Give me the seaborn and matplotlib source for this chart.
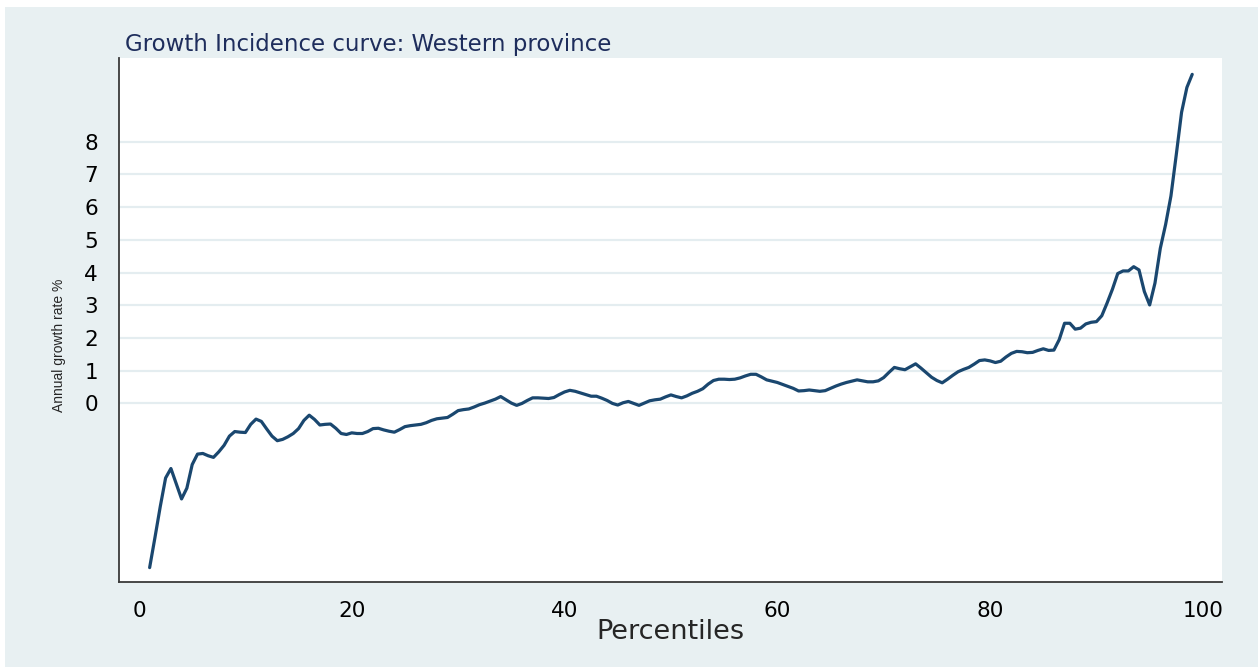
import numpy as np
import pandas as pd
import seaborn as sns
import matplotlib.pyplot as plt
from matplotlib.patches import Rectangle

# percentiles on a half-step grid, growth rates
percentiles = np.arange(1, 99.5, 0.5)
growth = [
    # 1.0 - 20.5
    -5.02, -4.10, -3.15, -2.28, -1.99, -2.45, -2.92, -2.59, -1.87, -1.55,
    -1.53, -1.60, -1.65, -1.48, -1.28, -1.00, -0.86, -0.88, -0.89, -0.64,
    -0.48, -0.55, -0.78, -1.00, -1.14, -1.10, -1.02, -0.92, -0.77, -0.52,
    -0.36, -0.49, -0.66, -0.64, -0.63, -0.76, -0.92, -0.95, -0.90, -0.92,
    # 21.0 - 40.5
    -0.92, -0.86, -0.77, -0.76, -0.81, -0.85, -0.88, -0.80, -0.71, -0.68,
    -0.66, -0.64, -0.59, -0.52, -0.47, -0.45, -0.43, -0.33, -0.22, -0.19,
    -0.17, -0.11, -0.04, 0.01, 0.07, 0.13, 0.21, 0.11, 0.01, -0.06,
    0.00, 0.09, 0.17, 0.17, 0.16, 0.15, 0.18, 0.27, 0.35, 0.40,
    # 41.0 - 60.0
    0.37, 0.32, 0.27, 0.22, 0.22, 0.16, 0.09, 0.00, -0.05, 0.02,
    0.06, 0.00, -0.06, 0.01, 0.08, 0.11, 0.13, 0.20, 0.26, 0.21,
    0.17, 0.23, 0.31, 0.37, 0.45, 0.59, 0.70, 0.74, 0.74, 0.73,
    0.74, 0.78, 0.84, 0.89, 0.89, 0.81, 0.72, 0.68, 0.64,
    # 60.5 - 80.0
    0.58, 0.52, 0.46, 0.38, 0.39, 0.41, 0.39, 0.37, 0.39, 0.46,
    0.53, 0.59, 0.64, 0.68, 0.72, 0.69, 0.66, 0.66, 0.69, 0.79,
    0.95, 1.10, 1.06, 1.03, 1.12, 1.21, 1.08, 0.94, 0.80, 0.70,
    0.63, 0.74, 0.86, 0.97, 1.04, 1.10, 1.20, 1.31, 1.33, 1.30,
    # 80.5 - 99.0
    1.25, 1.29, 1.42, 1.53, 1.59, 1.58, 1.55, 1.56, 1.62, 1.67,
    1.62, 1.63, 1.95, 2.45, 2.45, 2.27, 2.30, 2.43, 2.48, 2.50,
    2.68, 3.07, 3.49, 3.97, 4.05, 4.05, 4.18, 4.08, 3.42, 3.01,
    3.68, 4.74, 5.47, 6.34, 7.60, 8.90, 9.66, 10.06,
]
x_ticks = [0, 20, 40, 60, 80, 100]
y_ticks = [0, 1, 2, 3, 4, 5, 6, 7, 8]

title = "Growth Incidence curve: Western province"
x_label = "Percentiles"
y_label = "Annual growth rate %"

df = pd.DataFrame({"pct": percentiles, "growth": growth})

sns.set_style("white")
plt.rcParams["font.family"] = ["DejaVu Sans"]

bg = "#E8F0F2"
line_color = "#1A476F"
axis_color = "#3A3A3A"

fig = plt.figure(figsize=(12.58, 6.69), dpi=100, facecolor="white")
fig.add_artist(Rectangle((5 / 1258, 2 / 669), 1 - 5 / 1258, 660 / 669,
                         transform=fig.transFigure, facecolor=bg,
                         edgecolor="none", zorder=-1))

ax = fig.add_axes([119 / 1258, 87 / 669, 1103 / 1258, 524 / 669])
ax.set_facecolor("white")

sns.lineplot(data=df, x="pct", y="growth", ax=ax, color=line_color,
             linewidth=2.3, zorder=3)

ax.set_xlim(-1.88, 101.8)
ax.set_ylim(-5.46, 10.56)
ax.set_xticks(x_ticks)
ax.set_yticks(y_ticks)
ax.grid(axis="y", color="#E4EDF0", linewidth=1.6, zorder=0)
ax.grid(axis="x", visible=False)

for side in ["top", "right"]:
    ax.spines[side].set_visible(False)
for side in ["left", "bottom"]:
    ax.spines[side].set_color(axis_color)
    ax.spines[side].set_linewidth(1.3)

ax.tick_params(axis="both", direction="out", colors=axis_color,
               labelcolor="black", width=1.1, labelsize=15.5)
ax.tick_params(axis="y", length=9, pad=6)
ax.tick_params(axis="x", length=7.5, pad=6)

ax.set_xlabel(x_label, fontsize=19.5, labelpad=-1)
ax.set_ylabel("")

fig.text(59 / 1258, 1 - 345 / 669, y_label, rotation=90, fontsize=10,
         ha="center", va="center",
         family=["Liberation Sans", "DejaVu Sans"])
fig.text(125 / 1258, 1 - 51.5 / 669, title, fontsize=16.5, color="#1E2D5C",
         ha="left", va="baseline")

fig.savefig("out.png", dpi=100, facecolor=fig.get_facecolor())
